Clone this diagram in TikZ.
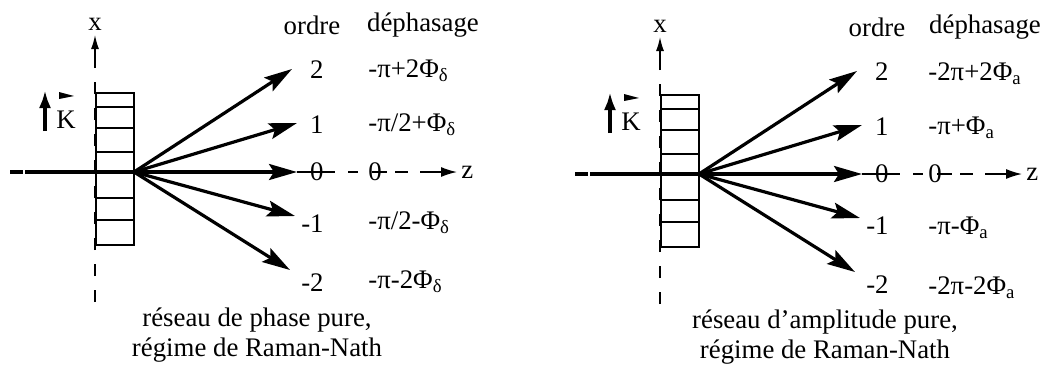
\documentclass[tikz,border=0pt]{standalone}
\usepackage{fontspec}
\setmainfont{Liberation Serif}
\usetikzlibrary{arrows.meta}

\tikzset{
  lab/.style={inner sep=2pt, font=\fontsize{13.4}{15}\selectfont},
  rayon/.style={line width=1.6pt, -{Stealth[length=14pt,width=8pt,inset=2.5pt]}},
  axe/.style={line width=0.7pt},
  reseau/.style={line width=1.3pt},
}

\begin{document}
\begin{tikzpicture}[x=0.5pt,y=-0.5pt]
  \useasboundingbox (0,0) rectangle (1044,371);
  % les deux montages (phase p, amplitude a)
  \foreach \s/\dx/\dy in {p/0/0, a/565/2}{
    \begin{scope}[shift={(\dx,\dy)}]
      \coordinate (\s-o) at (134,172);
      \coordinate (\s-g) at (10,172);
      \coordinate (\s-bas) at (95,302);
      \coordinate (\s-haut) at (95,62);
      \node[lab, anchor=south] (\s-x) at (95,35) {x};
      \draw[axe, dash pattern=on 6pt off 7pt] (\s-bas) -- (\s-haut);
      \draw[axe, -{Latex[length=7pt,width=4pt]}] (\s-haut) -- (\s-x);
      % reseau
      \draw[reseau] (96,93) rectangle (134,245);
      \foreach \y in {107,128,152,198,220}
        \draw[reseau] (96,\y) -- (134,\y);
      % faisceau incident
      \draw[line width=1.6pt, dash pattern=on 6.5pt off 1pt on 100pt] (\s-g) -- (\s-o);
      % vecteur K
      \node[lab] (\s-k) at (66,120) {K};
      \coordinate (\s-k0) at (45,131);
      \coordinate (\s-k1) at (45,90);
      \draw[line width=2pt, -{Latex[length=9pt,width=6pt]}] (\s-k0) -- (\s-k1);
      \fill (59,92) -- (74,96) -- (59,99) -- cycle;
      % ordres diffractes
      \node[lab] (\s-ordre) at (312,25) {ordre};
      \foreach \n/\tx/\ty/\o/\ly in {a/292/69/2/70, b/297/123/1/125, c/297/172/0/172,
                                     d/295/216/-1/224, e/290/270/-2/283}{
        \coordinate (\s-\n) at (\tx,\ty);
        \draw[rayon] (\s-o) -- (\s-\n);
        \node[lab, anchor=east] (\s-ord\n) at (328,\ly) {\o};
      }
      \node[lab, anchor=west] (\s-z) at (457,172) {z};
      \draw[axe, dash pattern=on 19pt off 6.5pt on 5pt off 7pt on 7.5pt off 4pt on 6.5pt off 6pt on 20pt,
            -{Latex[length=8pt,width=5pt]}] (\s-c) -- (\s-z);
    \end{scope}
  }
  % reseau de phase
  \node[lab] (p-dephas) at (423,25) {déphasage};
  \foreach \n/\y/\t in {a/71/{-π+2Φ\textsubscript{δ}}, b/125/{-π/2+Φ\textsubscript{δ}}, c/172/{0},
                        d/223/{-π/2-Φ\textsubscript{δ}}, e/282/{-π-2Φ\textsubscript{δ}}}
    \node[lab, anchor=west] (p-ph\n) at (364,\y) {\t};
  \node[lab, align=center] (p-titre) at (257,335) {réseau de phase pure,\\régime de Raman-Nath};
  % reseau d'amplitude
  \node[lab] (a-dephas) at (985,27) {déphasage};
  \foreach \n/\y/\t in {a/74/{-2π+2Φ\textsubscript{a}}, b/128/{-π+Φ\textsubscript{a}}, c/174/{0},
                        d/228/{-π-Φ\textsubscript{a}}, e/288/{-2π-2Φ\textsubscript{a}}}
    \node[lab, anchor=west] (a-ph\n) at (924,\y) {\t};
  \node[lab, align=center] (a-titre) at (825,337) {réseau d’amplitude pure,\\régime de Raman-Nath};
\end{tikzpicture}
\end{document}
